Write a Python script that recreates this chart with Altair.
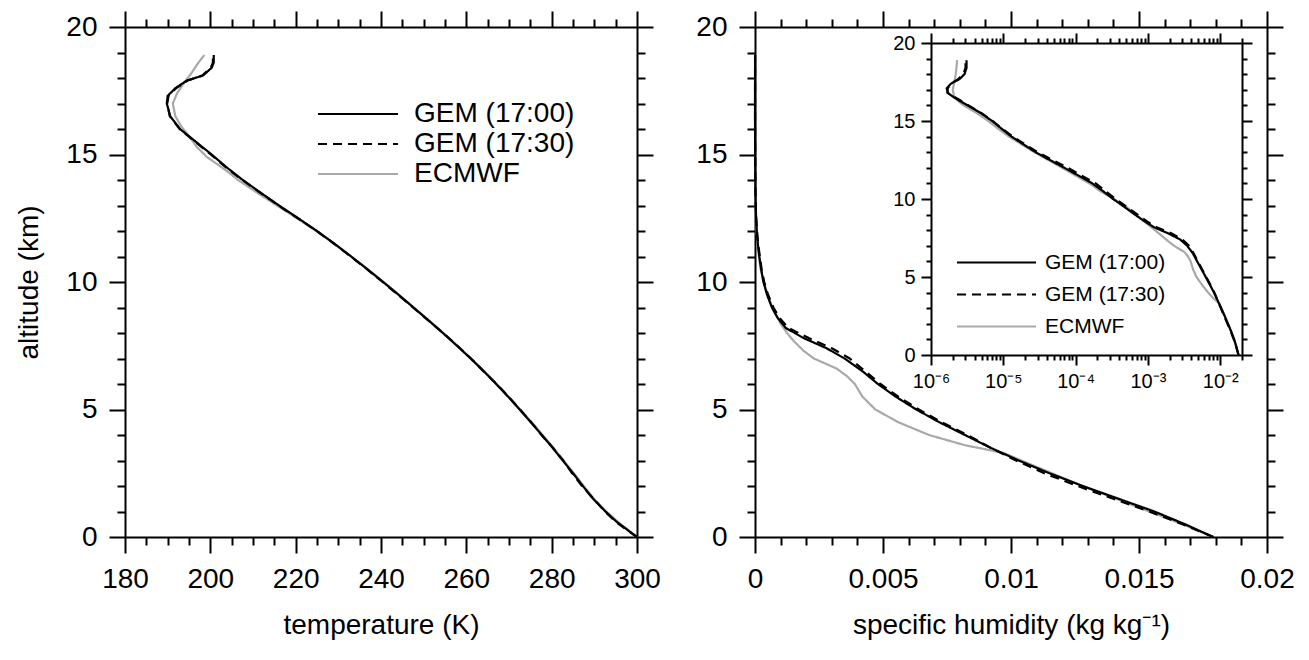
import altair as alt
import pandas as pd

LEG_ORDER = ["GEM (17:00)", "GEM (17:30)", "ECMWF"]
COLORS = ["#000000", "#000000", "#a9a9a9"]
DASHES = [[1, 0], [9, 6], [1, 0]]

# ---------------- temperature profiles (altitude km, temperature K) -------------
t_alt_g1700 = [0.0, 0.3, 0.6, 1.0, 1.5, 2.0, 2.5, 3.0, 3.5, 4.0, 4.5, 5.0, 5.5, 6.0, 6.5,
               7.0, 7.5, 8.0, 8.5, 9.0, 9.5, 10.0, 10.5, 11.0, 11.5, 12.0, 12.5, 13.0,
               13.5, 14.0, 14.5, 15.0, 15.5, 16.0, 16.5, 17.0, 17.3, 17.6, 17.9, 18.1,
               18.4, 18.6, 18.9]
t_g1700 = [300.0, 297.6, 295.2, 292.6, 289.7, 287.3, 285.0, 282.6, 280.2, 277.7, 275.1,
           272.5, 269.8, 267.0, 264.1, 261.0, 257.8, 254.5, 251.1, 247.6, 244.1, 240.5,
           236.8, 233.0, 229.1, 225.0, 220.6, 216.1, 211.8, 207.6, 203.8, 200.3, 196.6,
           192.9, 190.6, 189.8, 190.0, 191.8, 194.5, 198.3, 200.3, 200.8, 200.8]

t_alt_g1730 = [0.0, 0.3, 0.6, 1.0, 1.5, 2.0, 2.5, 3.0, 3.5, 4.0, 4.5, 5.0, 5.5, 6.0, 6.5,
               7.0, 7.5, 8.0, 8.5, 9.0, 9.5, 10.0, 10.5, 11.0, 11.5, 12.0, 12.5, 13.0,
               13.5, 14.0, 14.5, 15.0, 15.5, 16.0, 16.5, 17.0, 17.3, 17.6, 17.9, 18.1,
               18.4, 18.6, 18.9]
t_g1730 = [300.0, 297.4, 295.0, 292.5, 289.8, 287.1, 284.8, 282.7, 280.3, 277.6, 275.2,
           272.6, 269.9, 267.1, 264.0, 261.1, 257.9, 254.6, 251.0, 247.5, 244.0, 240.4,
           236.7, 232.9, 229.0, 224.9, 220.5, 216.0, 211.7, 207.5, 203.6, 200.1, 196.4,
           192.8, 190.5, 189.9, 190.2, 192.0, 194.7, 198.1, 200.1, 200.6, 200.6]

t_alt_ecmwf = [0.0, 0.5, 1.0, 1.5, 2.0, 2.5, 3.0, 3.5, 4.0, 4.5, 5.0, 5.5, 6.0, 6.5, 7.0,
               7.5, 8.0, 8.5, 9.0, 9.5, 10.0, 10.5, 11.0, 11.5, 12.0, 12.5, 13.0, 13.5,
               14.0, 14.3, 14.6, 14.9, 15.3, 15.7, 16.1, 16.5, 17.0, 17.4, 17.8, 18.2,
               18.6, 18.9]
t_ecmwf = [300.0, 296.2, 292.8, 289.9, 287.5, 285.2, 282.8, 280.4, 277.9, 275.3, 272.6,
           269.9, 267.1, 264.2, 261.1, 257.9, 254.6, 251.2, 247.7, 244.2, 240.6, 236.9,
           233.0, 229.0, 224.8, 220.3, 215.6, 211.0, 206.5, 204.3, 201.8, 199.2, 196.8,
           195.1, 193.2, 191.8, 191.2, 192.2, 193.8, 195.6, 197.2, 198.6]

# ---------------- specific humidity profiles (altitude km, kg/kg) ----------------
q_alt_g1700 = [0.0, 0.5, 1.0, 1.5, 2.0, 2.5, 3.0, 3.5, 4.0, 4.5, 5.0, 5.5, 6.0, 6.5, 7.0,
               7.4, 7.8, 8.2, 8.6, 9.0, 9.5, 10.0, 10.5, 11.0, 11.5, 12.0, 12.5, 13.0,
               13.5, 14.0, 14.5, 15.0, 15.5, 16.0, 16.5, 16.8, 17.1, 17.4, 17.7, 18.0,
               18.4, 18.9]
q_g1700 = [0.0179, 0.0168, 0.0156, 0.0142, 0.0128, 0.0115, 0.0103, 0.0092, 0.0082, 0.0072,
           0.0063, 0.0055, 0.0048, 0.0042, 0.0035, 0.0028, 0.0019, 0.0012, 0.00088, 0.00066,
           0.00047, 0.00033, 0.00024, 0.00017, 0.00011, 0.00007, 0.000044, 0.000028,
           0.000019, 0.000013, 0.0000095, 0.0000070, 0.0000049, 0.0000032, 0.0000021,
           0.0000017, 0.00000165, 0.0000019, 0.0000025, 0.0000029, 0.0000031, 0.0000031]

q_alt_g1730 = [0.0, 0.5, 1.0, 1.5, 2.0, 2.5, 3.0, 3.5, 4.0, 4.5, 5.0, 5.5, 6.0, 6.5, 7.0,
               7.4, 7.8, 8.2, 8.6, 9.0, 9.5, 10.0, 10.5, 11.0, 11.5, 12.0, 12.5, 13.0,
               13.5, 14.0, 14.5, 15.0, 15.5, 16.0, 16.5, 16.8, 17.1, 17.4, 17.7, 18.0,
               18.4, 18.9]
q_g1730 = [0.0179, 0.0167, 0.0154, 0.0140, 0.0126, 0.0113, 0.0102, 0.0092, 0.0083, 0.0073,
           0.0064, 0.0056, 0.0049, 0.0043, 0.0037, 0.0030, 0.0021, 0.0013, 0.00095, 0.00072,
           0.00051, 0.00036, 0.00026, 0.00019, 0.00012, 0.000078, 0.000048, 0.000030,
           0.000020, 0.0000135, 0.0000097, 0.0000071, 0.0000050, 0.0000033, 0.0000022,
           0.0000017, 0.0000017, 0.0000019, 0.0000024, 0.0000028, 0.0000030, 0.0000030]

q_alt_ecmwf = [0.0, 0.5, 1.0, 1.5, 2.0, 2.5, 3.0, 3.3, 3.6, 4.0, 4.5, 5.0, 5.5, 6.0, 6.3,
               6.6, 7.0, 7.3, 7.7, 8.0, 8.4, 9.0, 9.5, 10.0, 10.5, 11.0, 11.5, 12.0, 12.5,
               13.0, 13.5, 14.0, 14.5, 15.0, 15.5, 16.0, 16.5, 17.0, 17.5, 18.0, 18.9]
q_ecmwf = [0.0179, 0.0167, 0.0154, 0.0141, 0.0128, 0.0116, 0.0104, 0.0097, 0.0082, 0.0068,
           0.0056, 0.0047, 0.0042, 0.0039, 0.0036, 0.0032, 0.0023, 0.0019, 0.0015, 0.00125,
           0.00098, 0.00068, 0.00050, 0.00034, 0.00022, 0.000155, 0.000100, 0.000065,
           0.000042, 0.000027, 0.000018, 0.000012, 0.0000085, 0.0000062, 0.0000043,
           0.0000028, 0.0000021, 0.0000020, 0.0000021, 0.0000022, 0.0000023]

# ---------------- axis tick values ----------------
t_ticks = [180, 185, 190, 195, 200, 205, 210, 215, 220, 225, 230, 235, 240, 245, 250, 255,
           260, 265, 270, 275, 280, 285, 290, 295, 300]
alt_ticks = list(range(0, 21))
q_ticks = [0, 0.001, 0.002, 0.003, 0.004, 0.005, 0.006, 0.007, 0.008, 0.009, 0.01, 0.011,
           0.012, 0.013, 0.014, 0.015, 0.016, 0.017, 0.018, 0.019, 0.02]
log_ticks = [1e-6, 2e-6, 3e-6, 4e-6, 5e-6, 6e-6, 7e-6, 8e-6, 9e-6,
             1e-5, 2e-5, 3e-5, 4e-5, 5e-5, 6e-5, 7e-5, 8e-5, 9e-5,
             1e-4, 2e-4, 3e-4, 4e-4, 5e-4, 6e-4, 7e-4, 8e-4, 9e-4,
             1e-3, 2e-3, 3e-3, 4e-3, 5e-3, 6e-3, 7e-3, 8e-3, 9e-3, 1e-2, 2e-2]


def frame(parts):
    rows = []
    for name, alts, vals in parts:
        rows.append(pd.DataFrame({"alt": alts, "v": vals, "series": name}))
    return pd.concat(rows, ignore_index=True)


temp_df = frame([("ECMWF", t_alt_ecmwf, t_ecmwf),
                 ("GEM (17:30)", t_alt_g1730, t_g1730),
                 ("GEM (17:00)", t_alt_g1700, t_g1700)])
hum_df = frame([("ECMWF", q_alt_ecmwf, q_ecmwf),
                ("GEM (17:30)", q_alt_g1730, q_g1730),
                ("GEM (17:00)", q_alt_g1700, q_g1700)])

FONT = "Liberation Sans"
W, H = 1309, 660

T_MAJOR = "datum.value % 20 === 0"
A_MAJOR = "datum.value % 5 === 0"
Q_MAJOR = "abs(datum.value * 200 - round(datum.value * 200)) < 1e-6"
L_MAJOR = "abs(log(datum.value) / LN10 - round(log(datum.value) / LN10)) < 1e-6"
EXP = "round(log(datum.value) / LN10)"
LOG_LABEL = (L_MAJOR + " ? (" + EXP + " === -6 ? '10⁻⁶' : " + EXP + " === -5 ? '10⁻⁵' : "
             + EXP + " === -4 ? '10⁻⁴' : " + EXP + " === -3 ? '10⁻³' : '10⁻²') : ''")


def axis(orient, offset, values, major, big, small, labels=True, expr=None, fs=28,
         fmt=None, lpad=12, tpad=18):
    kw = dict(orient=orient, offset=offset, values=values, grid=False,
              domainColor="black", domainWidth=2, tickColor="black", tickWidth=2,
              tickSize={"condition": {"test": major, "value": big}, "value": small},
              labels=labels, labelOverlap=False, labelFlush=False, labelFont=FONT,
              labelFontSize=fs, labelColor="black", labelPadding=lpad,
              titleFont=FONT, titleFontSize=28, titleFontWeight="normal",
              titleColor="black", titlePadding=tpad)
    if expr is not None:
        kw["labelExpr"] = expr
    if fmt is not None:
        kw["format"] = fmt
    return alt.Axis(**kw)


def legend(x, y, fs, length, rowpad, loff):
    # a thin horizontal path symbol: path spans [-8, 8] units, scaled by sqrt(size)/2
    return alt.Legend(title=None, orient="none", legendX=x, legendY=y,
                      symbolType="M-8,0H8", symbolSize=(length / 8.0) ** 2,
                      symbolStrokeWidth=2.2, labelFont=FONT,
                      labelFontSize=fs, labelColor="black", labelLimit=500,
                      labelOffset=loff, rowPadding=rowpad, padding=0)


def lines(df, xs, ys, xa, ya, xtitle, ytitle, leg):
    return alt.Chart(df).mark_line(strokeWidth=2.2).encode(
        x=alt.X("v:Q", scale=xs, axis=xa, title=xtitle),
        y=alt.Y("alt:Q", scale=ys, axis=ya, title=ytitle),
        color=alt.Color("series:N", scale=alt.Scale(domain=LEG_ORDER, range=COLORS),
                        legend=leg),
        strokeDash=alt.StrokeDash("series:N", scale=alt.Scale(domain=LEG_ORDER, range=DASHES),
                                  legend=leg),
        order=alt.Order("alt:Q"),
    )


def ghost(df, xs, ys, xa, ya):
    return alt.Chart(df).mark_line(opacity=0).encode(
        x=alt.X("v:Q", scale=xs, axis=xa, title=None),
        y=alt.Y("alt:Q", scale=ys, axis=ya, title=None),
        detail="series:N",
        order=alt.Order("alt:Q"),
    )


# panel geometry
L_X0, L_X1 = 125, 637
R_X0, R_X1 = 755, 1267
Y_TOP, Y_BOT = 27, 537
I_X0, I_X1, I_TOP, I_BOT = 931, 1242, 43, 355

lx = alt.Scale(domain=[180, 300], range=[L_X0, L_X1], nice=False, zero=False)
ly = alt.Scale(domain=[0, 20], range=[Y_BOT, Y_TOP], nice=False, zero=False)
rx = alt.Scale(domain=[0, 0.02], range=[R_X0, R_X1], nice=False, zero=False)
ry = alt.Scale(domain=[0, 20], range=[Y_BOT, Y_TOP], nice=False, zero=False)
ix = alt.Scale(type="log", domain=[1e-6, 0.02], range=[I_X0, I_X1], nice=False)
iy = alt.Scale(domain=[0, 20], range=[I_BOT, I_TOP], nice=False, zero=False)

left_lines = lines(
    temp_df, lx, ly,
    axis("bottom", Y_BOT - H, t_ticks, T_MAJOR, 16, 8,
         expr=T_MAJOR + " ? datum.label : ''", fmt="d"),
    axis("left", -L_X0, alt_ticks, A_MAJOR, 16, 8,
         expr=A_MAJOR + " ? datum.label : ''", fmt="d", lpad=12, tpad=22),
    "temperature (K)", "altitude (km)",
    legend(344, 100, 28, 80, 2, 42))
left_frame = ghost(
    temp_df, lx, ly,
    axis("top", -Y_TOP, t_ticks, T_MAJOR, 16, 8, labels=False),
    axis("right", L_X1 - W, alt_ticks, A_MAJOR, 16, 8, labels=False))

right_lines = lines(
    hum_df, rx, ry,
    axis("bottom", Y_BOT - H, q_ticks, Q_MAJOR, 16, 8,
         expr=Q_MAJOR + " ? datum.label : ''", fmt="~g"),
    axis("left", -R_X0, alt_ticks, A_MAJOR, 16, 8,
         expr=A_MAJOR + " ? datum.label : ''", fmt="d"),
    "specific humidity (kg kg⁻¹)", None, None)
right_frame = ghost(
    hum_df, rx, ry,
    axis("top", -Y_TOP, q_ticks, Q_MAJOR, 16, 8, labels=False),
    axis("right", R_X1 - W, alt_ticks, A_MAJOR, 16, 8, labels=False))

inset_lines = lines(
    hum_df, ix, iy,
    axis("bottom", I_BOT - H, log_ticks, L_MAJOR, 10, 5, expr=LOG_LABEL, fs=20, lpad=6),
    axis("left", -I_X0, alt_ticks, A_MAJOR, 10, 5,
         expr=A_MAJOR + " ? datum.label : ''", fmt="d", fs=20, lpad=6),
    None, None,
    legend(986, 252, 21, 79, 10, 38))
inset_frame = ghost(
    hum_df, ix, iy,
    axis("top", -I_TOP, log_ticks, L_MAJOR, 10, 5, labels=False),
    axis("right", I_X1 - W, alt_ticks, A_MAJOR, 10, 5, labels=False))

chart = alt.layer(
    left_frame, left_lines, right_frame, right_lines, inset_frame, inset_lines
).resolve_scale(
    x="independent", y="independent", color="independent", strokeDash="independent"
).resolve_axis(
    x="independent", y="independent"
).resolve_legend(
    color="independent", strokeDash="independent"
).properties(
    width=W, height=H, padding=0, autosize=alt.AutoSizeParams(type="none"),
    background="white"
).configure_view(stroke=None)

chart.save("out.html", embed_options={"renderer": "svg", "actions": False})
